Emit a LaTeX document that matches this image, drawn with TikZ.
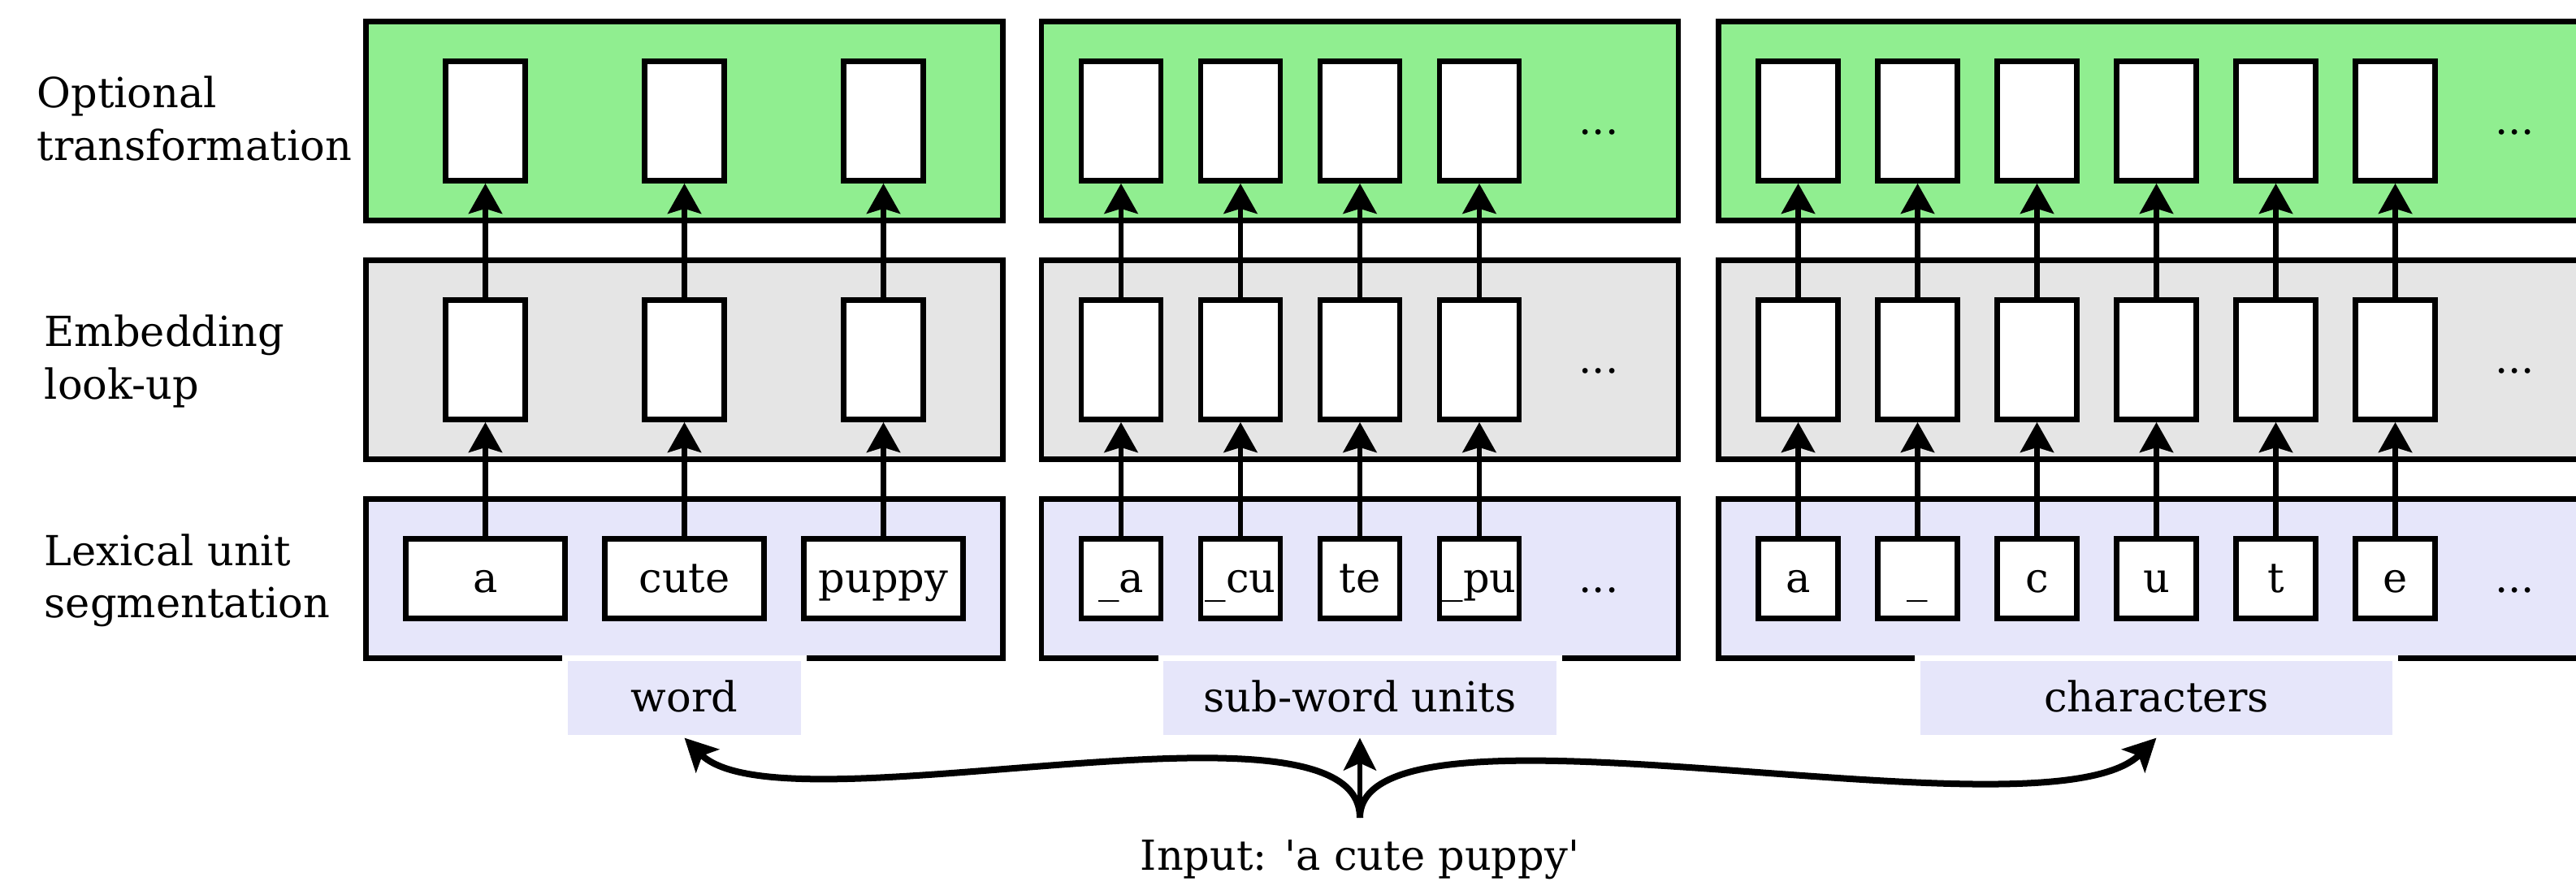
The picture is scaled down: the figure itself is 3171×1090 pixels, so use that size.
\documentclass[tikz,border=0pt]{standalone}
\usepackage{fontspec}
\setmainfont{DejaVu Serif}
\usetikzlibrary{arrows.meta}
\definecolor{lgreen}{RGB}{144,238,144}
\definecolor{lgray}{RGB}{229,229,229}
\definecolor{lavend}{RGB}{230,230,250}
\begin{document}
\begin{tikzpicture}[x=0.01cm,y=-0.01cm,
  font=\fontsize{14.5pt}{18.3pt}\selectfont,
  panel/.style={draw=black,line width=0.067cm},
  vec/.style={draw=black,fill=white,line width=0.067cm,minimum width=0.98cm,minimum height=1.47cm,inner sep=0pt},
  tok/.style={draw=black,fill=white,line width=0.067cm,minimum width=0.98cm,minimum height=0.98cm,inner sep=0pt,text height=0.40cm,text depth=0.07cm},
  dotsnode/.style={inner sep=0pt,text height=0.40cm,text depth=0.07cm},
  seglabel/.style={fill=lavend,draw=white,line width=0.067cm,minimum height=0.98cm,inner sep=0pt,outer sep=0pt,anchor=north,text height=0.40cm,text depth=0.07cm},
  uparrow/.style={line width=0.067cm,-{Stealth[length=0.37cm,width=0.41cm,inset=0.06cm]}},
  bigarrow/.style={line width=0.08cm,-{Stealth[length=0.40cm,width=0.40cm,inset=0.09cm]}},
  shaftarrow/.style={line width=0.06cm,-{Stealth[length=0.40cm,width=0.40cm,inset=0.09cm]}},
  rowlabel/.style={anchor=west,align=left,inner sep=0pt}
]
\useasboundingbox (0,0) rectangle (3171,1090);
\clip (0,0) rectangle (3171,1090);

% panels
\foreach \l/\r in {450.5/1234.5, 1282/2066, 2115.5/3193.5}{
  \filldraw[panel,fill=lgreen] (\l,26.5) rectangle (\r,271.5);
  \filldraw[panel,fill=lgray] (\l,320.5) rectangle (\r,565.5);
  \filldraw[panel,fill=lavend] (\l,614.5) rectangle (\r,810.5);
}

% row labels
\node[rowlabel] (labtrans) at (45,152) {\strut Optional\\\strut transformation};
\node[rowlabel] (labemb) at (54,446) {\strut Embedding\\\strut look-up};
\node[rowlabel] (labseg) at (54,715.5) {\strut Lexical unit\\\strut segmentation};

% segmentation labels
\node[seglabel,minimum width=2.94cm] (word) at (842.5,810.5) {word};
\node[seglabel,minimum width=4.90cm] (subword) at (1674,810.5) {sub-word units};
\node[seglabel,minimum width=5.88cm] (chars) at (2654.5,810.5) {characters};

% panel 1: words
\foreach \x/\w [count=\i] in {597.5/a,842.5/cute,1087.5/puppy}{
  \node[vec] (w\i-t) at (\x,149) {};
  \node[vec] (w\i-e) at (\x,443) {};
  \node[tok,minimum width=1.96cm] (w\i-s) at (\x,712.5) {\w};
  \draw[uparrow] (w\i-s) -- (w\i-e);
  \draw[uparrow] (w\i-e) -- (w\i-t);
}

% panel 2: sub-words
\foreach \x/\w [count=\i] in {1380/\_a,1527/\_cu,1674/te,1821/\_pu}{
  \node[vec] (p\i-t) at (\x,149) {};
  \node[vec] (p\i-e) at (\x,443) {};
  \node[tok] (p\i-s) at (\x,712.5) {\w};
  \draw[uparrow] (p\i-s) -- (p\i-e);
  \draw[uparrow] (p\i-e) -- (p\i-t);
}
\node[dotsnode] (pdots-t) at (1968,149) {...};
\node[dotsnode] (pdots-e) at (1968,443) {...};
\node[dotsnode] (pdots-s) at (1968,712.5) {...};

% panel 3: characters
\foreach \x/\w [count=\i] in {2213.5/a,2360.5/\_,2507.5/c,2654.5/u,2801.5/t,2948.5/e}{
  \node[vec] (c\i-t) at (\x,149) {};
  \node[vec] (c\i-e) at (\x,443) {};
  \node[tok] (c\i-s) at (\x,712.5) {\w};
  \draw[uparrow] (c\i-s) -- (c\i-e);
  \draw[uparrow] (c\i-e) -- (c\i-t);
}
\node[dotsnode] (cdots-t) at (3095.5,149) {...};
\node[dotsnode] (cdots-e) at (3095.5,443) {...};
\node[dotsnode] (cdots-s) at (3095.5,712.5) {...};

% input and fork
\node[dotsnode] (input) at (1674,1054.5) {Input: \textquotesingle a cute puppy\textquotesingle};
\coordinate (fork) at (1674,1007);
\draw[shaftarrow] (fork) -- (subword.south);
\draw[bigarrow] (fork) .. controls +(0,-170) and +(120,120) .. (word.south);
\draw[bigarrow] (fork) .. controls +(0,-170) and +(-135,135) .. (chars.south);
\end{tikzpicture}
\end{document}
